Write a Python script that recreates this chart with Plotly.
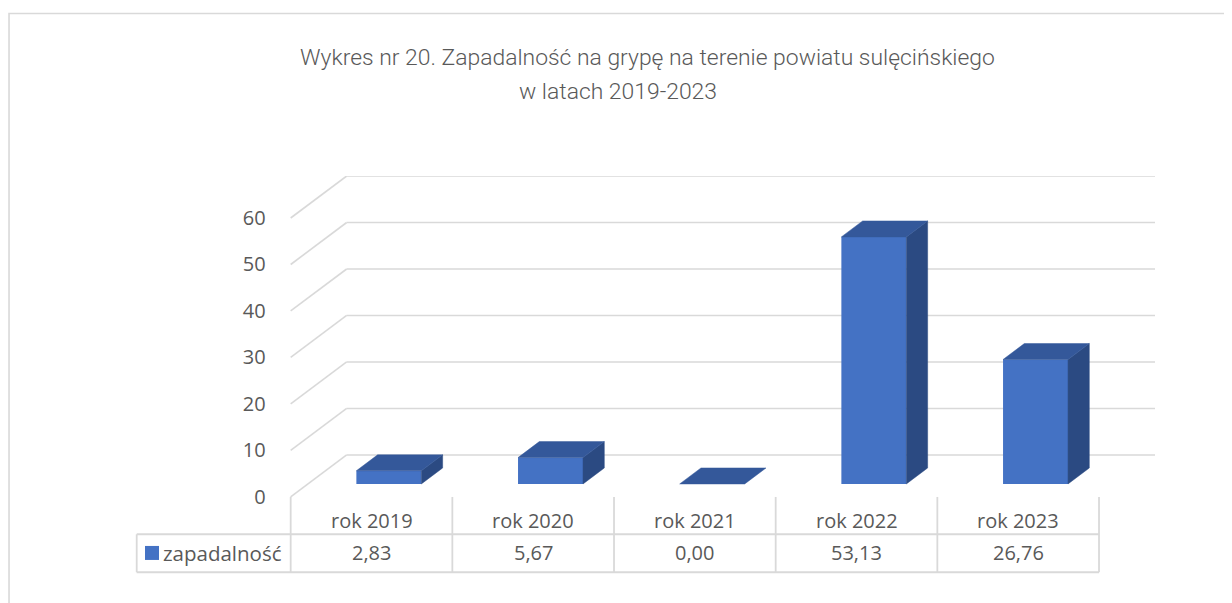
import plotly.graph_objects as go

# ---------------- data ----------------
categories = ["rok 2019", "rok 2020", "rok 2021", "rok 2022", "rok 2023"]
values = [2.83, 5.67, 0.00, 53.13, 26.76]
value_labels = ["2,83", "5,67", "0,00", "53,13", "26,76"]
series_name = "zapadalność"
y_ticks = [0, 10, 20, 30, 40, 50, 60]
title_line1 = "Wykres nr 20. Zapadalność na grypę na terenie powiatu sulęcińskiego"
title_line2 = "w latach 2019-2023"

# ---------------- geometry / style ----------------
PAGE_OFF = 8            # default body margin of the html page
W, H = 1232 - PAGE_OFF, 603 - PAGE_OFF
PX_CAT = 161.7          # px per category
PX_VAL = 4.65           # px per value unit
FLOOR_PX_Y = 497.0 - PAGE_OFF      # front-plane zero
FRONT_LEFT_PX = 290.7 - PAGE_OFF   # front-plane left edge
DX = 56 / PX_CAT        # full depth offset (data units)
DY = 42 / PX_VAL
D0, D1 = 0.31, 0.69     # bar depth span
BAR_W = 65 / PX_CAT

FRONT = "#4472C4"
TOP = "#34589A"
SIDE = "#2B4A82"
GRID = "#D9D9D9"
TXT = "#595959"
BODY_FONT = "Open Sans"

n = len(categories)
X_MIN = -1.5
X_MAX = n - 0.5 + DX
Y_MAX = max(y_ticks) + DY
Y_MIN = -17.0

PLOT_L = FRONT_LEFT_PX - (-0.5 - X_MIN) * PX_CAT
PLOT_R = PLOT_L + (X_MAX - X_MIN) * PX_CAT
PLOT_T = FLOOR_PX_Y - Y_MAX * PX_VAL
PLOT_B = FLOOR_PX_Y - Y_MIN * PX_VAL


def xd(px):
    return X_MIN + (px - PAGE_OFF - PLOT_L) / PX_CAT


def yd(py):
    return (FLOOR_PX_Y - (py - PAGE_OFF)) / PX_VAL


def xp(px):
    return (px - PAGE_OFF - PLOT_L) / (PLOT_R - PLOT_L)


def yp(py):
    return (PLOT_B - (py - PAGE_OFF)) / (PLOT_B - PLOT_T)


fig = go.Figure()
shapes = []

# back wall and side wall gridlines
for v in y_ticks:
    shapes.append(dict(type="line", xref="x", yref="y", layer="below",
                       x0=-0.5 + DX, x1=n - 0.5 + DX, y0=v + DY, y1=v + DY,
                       line=dict(color=GRID, width=1.6)))
    shapes.append(dict(type="line", xref="x", yref="y", layer="below",
                       x0=-0.5, x1=-0.5 + DX, y0=v, y1=v + DY,
                       line=dict(color=GRID, width=1.6)))

# bars: front faces (native bars)
xs_front = [i + D0 * DX for i in range(n)]
fig.add_trace(go.Bar(x=xs_front, y=values, base=D0 * DY, width=BAR_W,
                     marker=dict(color=FRONT, line=dict(width=0)),
                     showlegend=False, hoverinfo="skip"))

# top and side faces computed from values
ddx = (D1 - D0) * DX
ddy = (D1 - D0) * DY
tx, ty, sx, sy = [], [], [], []
for i, v in enumerate(values):
    xl = xs_front[i] - BAR_W / 2
    xr = xs_front[i] + BAR_W / 2
    yb = D0 * DY
    yt = v + D0 * DY
    tx += [xl, xr, xr + ddx, xl + ddx, xl, None]
    ty += [yt, yt, yt + ddy, yt + ddy, yt, None]
    if v > 0:
        sx += [xr, xr + ddx, xr + ddx, xr, xr, None]
        sy += [yb, yb + ddy, yt + ddy, yt, yb, None]
fig.add_trace(go.Scatter(x=sx, y=sy, mode="lines", fill="toself", fillcolor=SIDE,
                         line=dict(width=0.5, color=SIDE), showlegend=False, hoverinfo="skip"))
fig.add_trace(go.Scatter(x=tx, y=ty, mode="lines", fill="toself", fillcolor=TOP,
                         line=dict(width=0.5, color=TOP), showlegend=False, hoverinfo="skip"))

# data table
y_mid = yd(534.3)
y_bot = yd(572.3)
x_lab = xd(136.7)
for i in range(n + 1):
    shapes.append(dict(type="line", xref="x", yref="y", layer="below",
                       x0=i - 0.5, x1=i - 0.5, y0=0, y1=y_bot,
                       line=dict(color=GRID, width=1.8)))
for yy in (y_mid, y_bot):
    shapes.append(dict(type="line", xref="x", yref="y", layer="below",
                       x0=x_lab, x1=n - 0.5, y0=yy, y1=yy,
                       line=dict(color=GRID, width=1.8)))
shapes.append(dict(type="line", xref="x", yref="y", layer="below",
                   x0=x_lab, x1=x_lab, y0=y_mid, y1=y_bot,
                   line=dict(color=GRID, width=1.8)))

# outer chart frame
shapes.append(dict(type="rect", xref="paper", yref="paper",
                   x0=xp(9), x1=xp(1250), y0=yp(620), y1=yp(13.5),
                   line=dict(color=GRID, width=1.6), layer="below"))

annotations = []
for i, c in enumerate(categories):
    annotations.append(dict(x=i, y=yd(521), xref="x", yref="y", text=c, showarrow=False,
                            xanchor="center", yanchor="middle",
                            font=dict(family=BODY_FONT, size=20, color=TXT)))
    annotations.append(dict(x=i, y=yd(553), xref="x", yref="y", text=value_labels[i],
                            showarrow=False, xanchor="center", yanchor="middle",
                            font=dict(family=BODY_FONT, size=20, color=TXT)))
annotations.append(dict(x=xd(161), y=yd(553), xref="x", yref="y", text=series_name,
                        showarrow=False, xanchor="left", yanchor="middle",
                        font=dict(family=BODY_FONT, size=20.5, color=TXT)))
# legend key in the table
fig.add_trace(go.Scatter(x=[xd(152)], y=[yd(553)], mode="markers",
                         marker=dict(symbol="square", size=14, color=FRONT),
                         showlegend=False, hoverinfo="skip"))

# title
annotations.append(dict(x=xp(647.5), y=yp(57), xref="paper", yref="paper", text=title_line1,
                        showarrow=False, xanchor="center", yanchor="middle",
                        font=dict(family="Roboto", size=22.9, color=TXT, weight=300)))
annotations.append(dict(x=xp(618), y=yp(91), xref="paper", yref="paper", text=title_line2,
                        showarrow=False, xanchor="center", yanchor="middle",
                        font=dict(family="Roboto", size=22.9, color=TXT, weight=300)))

fig.update_layout(
    width=W, height=H,
    margin=dict(l=PLOT_L, r=W - PLOT_R, t=PLOT_T, b=H - PLOT_B, pad=0),
    paper_bgcolor="white", plot_bgcolor="white",
    shapes=shapes, annotations=annotations,
    hovermode=False, showlegend=False,
    xaxis=dict(range=[X_MIN, X_MAX], visible=False, fixedrange=True),
    yaxis=dict(range=[Y_MIN, Y_MAX], tickvals=y_ticks, ticktext=[str(t) for t in y_ticks],
               showgrid=False, zeroline=False, showline=False, ticks="",
               anchor="free", position=xp(FRONT_LEFT_PX + PAGE_OFF), ticklabelstandoff=25,
               tickfont=dict(family=BODY_FONT, size=20, color=TXT), fixedrange=True),
)

fig.write_html("out.html")
